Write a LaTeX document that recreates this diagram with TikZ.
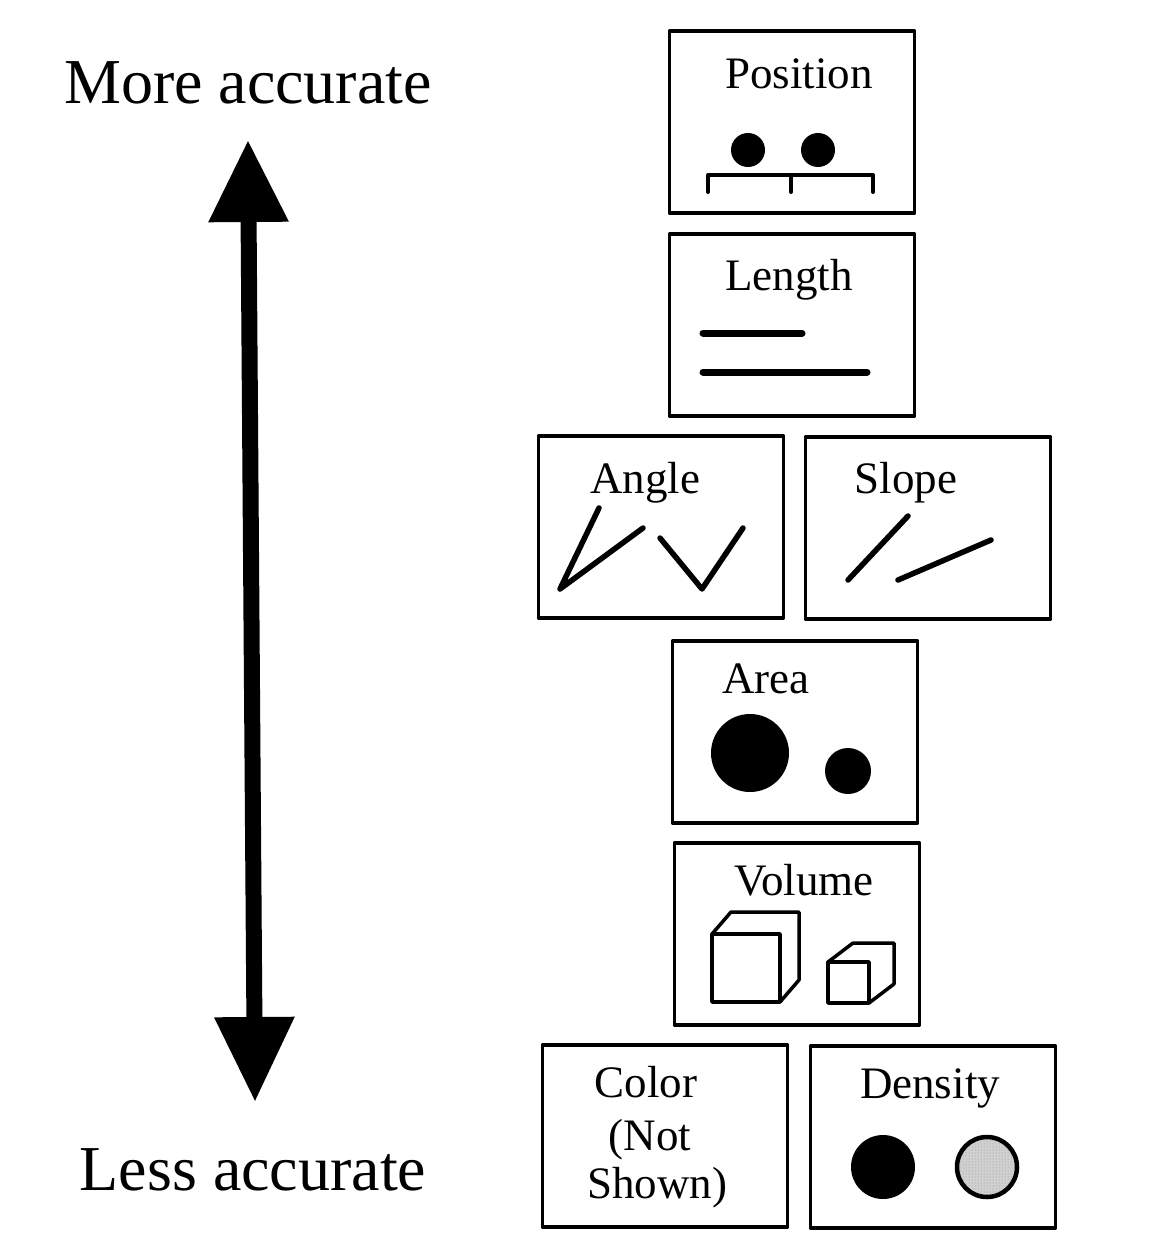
\documentclass[tikz,border=0pt]{standalone}
\usepackage{fontspec}
\setmainfont{Liberation Serif}
\usetikzlibrary{arrows.meta,patterns}
\tikzset{
  panel/.style={draw, line width=3.5pt, minimum width=245pt, minimum height=182pt, inner sep=0pt},
  caption/.style={font=\fontsize{45}{50}\selectfont, inner sep=0pt, anchor=base},
  bigcaption/.style={font=\fontsize{64}{70}\selectfont, inner sep=0pt, anchor=base},
  glyph/.style={line width=5.5pt},
  cube/.style={line width=3.5pt, fill=white}
}
\begin{document}
\begin{tikzpicture}[x=1pt, y=-1pt, line join=round, line cap=round]
\useasboundingbox (0,0) rectangle (1158,1258);
\foreach \nm/\x/\y in {position/792/122, length/792/325, angle/661/527, slope/928/528,
  area/795/732, volume/797/934, color/665/1136, density/933/1137}
  \node[panel] (\nm) at (\x,\y) {};
\foreach \nm/\x/\y/\t in {position/799/88/Position, length/789/290/Length, angle/645/493/Angle,
  slope/906/493/Slope, area/766/693/Area, volume/804/895/Volume, density/930/1098/Density}
  \node[caption] (\nm-text) at (\x,\y) {\t};
\node[caption] (color-a) at (646,1097) {Color};
\node[caption] (color-b) at (650,1150) {(Not};
\node[caption] (color-c) at (657,1198) {Shown)};
\node[bigcaption] (more) at (248,103) {More accurate};
\node[bigcaption] (less) at (253,1190) {Less accurate};
\coordinate (hi) at (248,140);
\coordinate (lo) at (255,1102);
\draw[line width=16pt, line cap=butt, {Triangle[length=82pt,width=76pt]}-{Triangle[length=85pt,width=76pt]}] (hi) -- (lo);
% position
\fill (748,150) circle (17) (818,150) circle (17);
\draw[line width=4pt] (708,192) -- (708,175) -- (873,175) -- (873,192) (791,175) -- (791,192);
% length
\draw[glyph, line width=7pt] (703,333) -- (802,333) (703,372) -- (867,372);
% angle, slope
\draw[glyph] (599,508) -- (560,589) -- (643,528);
\draw[glyph] (660,538) -- (702,589) -- (743,528);
\draw[glyph] (848,580) -- (908,516) (898,580) -- (991,540);
% area
\fill (750,753) circle (39) (848,771) circle (23);
% volume
\foreach \x/\y/\s/\dx/\dy in {712/1002/68/19/-22, 828/1003/41/25/-19}{
  \draw[cube] (\x,\y-\s) -- ++(\dx,\dy) -- ++(\s,0) -- ++(0,\s) -- ++(-\dx,-\dy) -- ++(0,-\s) -- cycle;
  \draw[cube] (\x,\y) rectangle ++(\s,-\s);
}
% density
\fill (883,1167) circle (32);
\fill[black!18] (987,1167) circle (30);
\fill[pattern=dots, pattern color=black!45] (987,1167) circle (30);
\draw[line width=4.5pt] (987,1167) circle (30);
\end{tikzpicture}
\end{document}
